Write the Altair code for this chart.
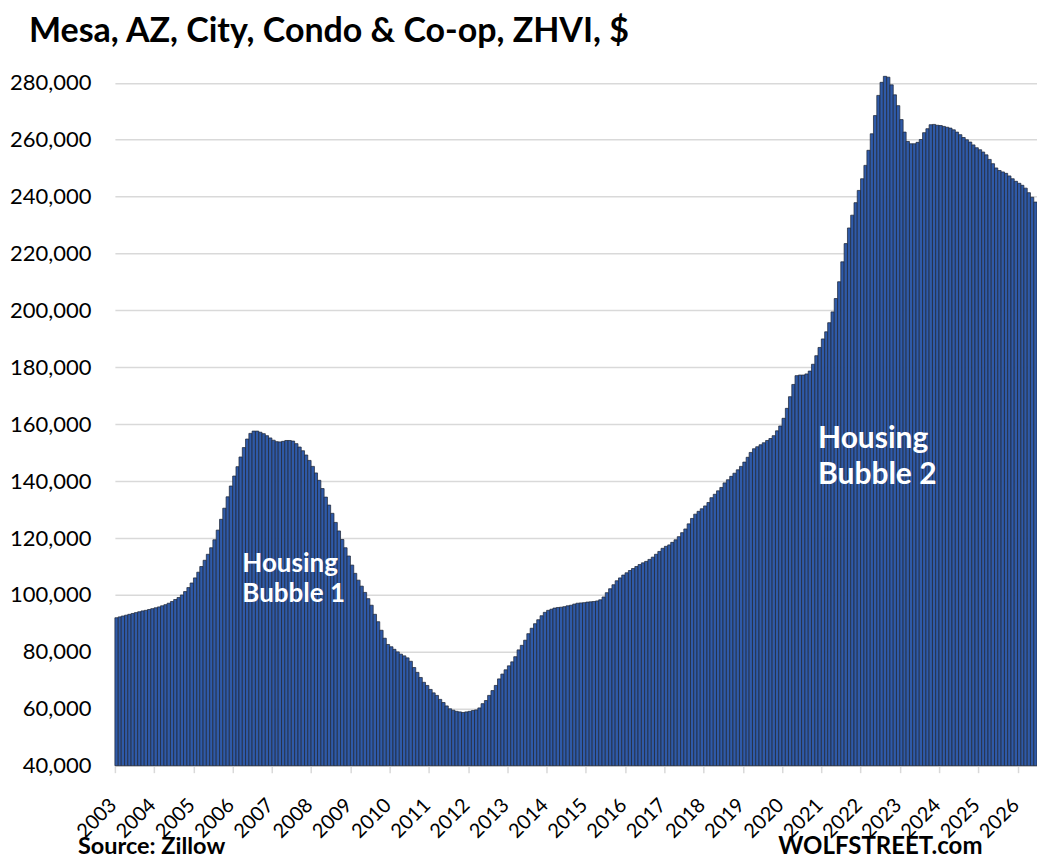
import altair as alt
import pandas as pd

FONT = "Lato"

# Monthly ZHVI values (USD), Jan 2003 .. Jun 2026
y2003 = [92000, 92300, 92600, 92900, 93200, 93500, 93800, 94100, 94400, 94600, 94900, 95200]
y2004 = [95500, 95800, 96200, 96600, 97100, 97700, 98400, 99100, 100000, 101200, 102600, 104200]
y2005 = [106000, 108000, 110000, 112200, 114300, 116600, 119400, 122800, 126600, 130500, 134500, 138300]
y2006 = [141800, 145100, 148500, 151800, 154800, 156800, 157600, 157600, 157200, 156700, 156000, 155200]
y2007 = [154400, 153900, 153800, 154000, 154300, 154300, 154100, 153200, 152000, 150700, 149200, 147300]
y2008 = [145200, 142900, 140300, 137400, 134400, 131600, 128700, 125500, 122500, 119500, 116600, 113700]
y2009 = [110500, 107600, 105200, 103100, 100900, 98700, 96400, 93200, 90600, 87600, 84800, 82600]
y2010 = [81800, 80900, 80000, 79200, 78600, 77900, 76700, 74500, 72800, 71000, 69300, 68200]
y2011 = [66800, 65600, 64700, 63300, 62200, 61000, 60000, 59500, 59100, 58900, 58700, 58900]
y2012 = [59100, 59400, 59600, 60300, 61800, 62900, 64700, 66400, 68200, 70500, 72200, 73700]
y2013 = [75100, 76500, 78300, 80700, 82300, 84100, 86400, 88300, 89900, 91300, 92700, 93900]
y2014 = [94600, 95000, 95400, 95600, 95700, 95900, 96200, 96400, 96800, 97100, 97200, 97300]
y2015 = [97500, 97600, 97700, 97900, 98300, 99300, 100800, 102200, 103600, 105000, 106000, 107000]
y2016 = [107800, 108600, 109300, 110000, 110700, 111300, 111800, 112500, 113300, 114300, 115300, 116400]
y2017 = [117100, 117600, 118500, 119400, 120500, 121900, 123200, 125000, 126900, 128400, 129400, 130300]
y2018 = [131300, 132500, 134200, 135400, 136600, 137800, 139400, 140500, 141700, 142800, 144000, 145200]
y2019 = [146700, 148400, 150100, 151400, 152100, 152800, 153500, 154300, 155000, 156000, 157700, 159400]
y2020 = [162100, 165600, 169700, 174000, 177100, 177300, 177300, 177700, 178700, 181100, 184100, 187000]
y2021 = [190000, 192500, 195700, 199500, 204200, 210100, 217100, 223500, 229000, 233500, 237900, 242200]
y2022 = [246300, 251000, 256300, 262100, 268500, 275600, 280200, 282300, 282000, 279300, 275800, 272000]
y2023 = [267100, 262700, 259400, 258600, 258600, 259100, 260100, 262500, 263900, 265300, 265400, 265100]
y2024 = [265000, 264700, 264400, 264100, 263500, 262700, 261800, 260800, 260000, 259200, 258200, 257200]
y2025 = [256500, 255700, 254700, 253100, 251600, 250100, 249200, 248700, 248200, 247300, 246300, 245400]
y2026 = [244700, 244000, 243000, 241400, 239800, 238100]

values = (y2003 + y2004 + y2005 + y2006 + y2007 + y2008 + y2009 + y2010 + y2011 + y2012
          + y2013 + y2014 + y2015 + y2016 + y2017 + y2018 + y2019 + y2020 + y2021 + y2022
          + y2023 + y2024 + y2025 + y2026)

months = pd.date_range("2003-01-01", periods=len(values), freq="MS")
ends = months + pd.offsets.MonthBegin(1)
df = pd.DataFrame({
    "start": months.strftime("%Y-%m-%d"),
    "end": ends.strftime("%Y-%m-%d"),
    "value": values,
})

y_ticks = [40000, 60000, 80000, 100000, 120000, 140000, 160000, 180000,
           200000, 220000, 240000, 260000, 280000]

# annotation labels
ann_labels = ["Housing", "Bubble 1", "Housing", "Bubble 2"]
ann_dates = ["2006-04-01", "2006-04-01", "2020-12-01", "2020-12-01"]
ann_values = [108000, 97500, 151800, 139000]
ann_sizes = [26, 26, 30, 30]
ann = pd.DataFrame({"label": ann_labels, "date": ann_dates, "value": ann_values, "fs": ann_sizes})

x_scale = alt.Scale(type="utc",
                    domain=[alt.DateTime(year=2003, month=1, date=1, utc=True),
                            alt.DateTime(year=2026, month=7, date=1, utc=True)])
y_scale = alt.Scale(domain=[40000, 283000], nice=False, zero=False)

x_axis = alt.Axis(format="%Y", tickCount={"interval": "year", "step": 1},
                  labelAngle=-45, labelAlign="right", labelBaseline="top",
                  labelFont=FONT, labelFontSize=20, labelColor="#000000",
                  labelPadding=22, labelOffset=-9, labelOverlap=False,
                  labelFlush=False, labelBound=False,
                  tickSize=7, tickColor="#d9d9d9", tickWidth=1.5,
                  domainColor="#d9d9d9", domainWidth=1.5, grid=False, title=None)
y_axis = alt.Axis(values=y_ticks, format=",d", labelFont=FONT, labelFontSize=22,
                  labelColor="#000000", labelPadding=24, ticks=False, domain=False,
                  grid=True, gridColor="#d9d9d9", gridWidth=1.5, title=None)

bars = alt.Chart(df).mark_bar(color="#2F5AA8", stroke="#202838", strokeWidth=0.75).encode(
    x=alt.X("start:T", scale=x_scale, axis=x_axis),
    x2="end:T",
    y=alt.Y("value:Q", scale=y_scale, axis=y_axis),
    y2=alt.datum(40000),
)

labels = alt.Chart(ann).mark_text(align="left", baseline="alphabetic", font=FONT,
                                  fontWeight="bold", color="white").encode(
    x="date:T", y="value:Q", text="label:N",
    size=alt.Size("fs:Q", scale=None, legend=None),
)

src = alt.Chart(pd.DataFrame({"t": ["Source: Zillow"]})).mark_text(
    align="left", baseline="alphabetic", font=FONT, fontWeight="bold", fontSize=23.5, color="#000000"
).encode(x=alt.value(-37), y=alt.value(780), text="t:N")

wolf = alt.Chart(pd.DataFrame({"t": ["WOLFSTREET.com"]})).mark_text(
    align="left", baseline="alphabetic", font=FONT, fontWeight="bold", fontSize=24, color="#000000"
).encode(x=alt.value(664), y=alt.value(780), text="t:N")

chart = alt.layer(bars, labels, src, wolf).properties(
    width=923, height=692,
    background="white",
    title=alt.TitleParams("Mesa, AZ, City, Condo & Co-op, ZHVI, $", font=FONT, fontSize=34,
                          fontWeight="bold", anchor="start", frame="group", dx=-86, dy=32,
                          baseline="alphabetic", offset=28, color="#000000"),
    autosize=alt.AutoSizeParams(type="none"),
    padding={"left": 107, "top": 66, "right": 0, "bottom": 92},
).configure_view(stroke=None)

chart.save("out.html", embed_options={"renderer": "svg", "actions": False})
